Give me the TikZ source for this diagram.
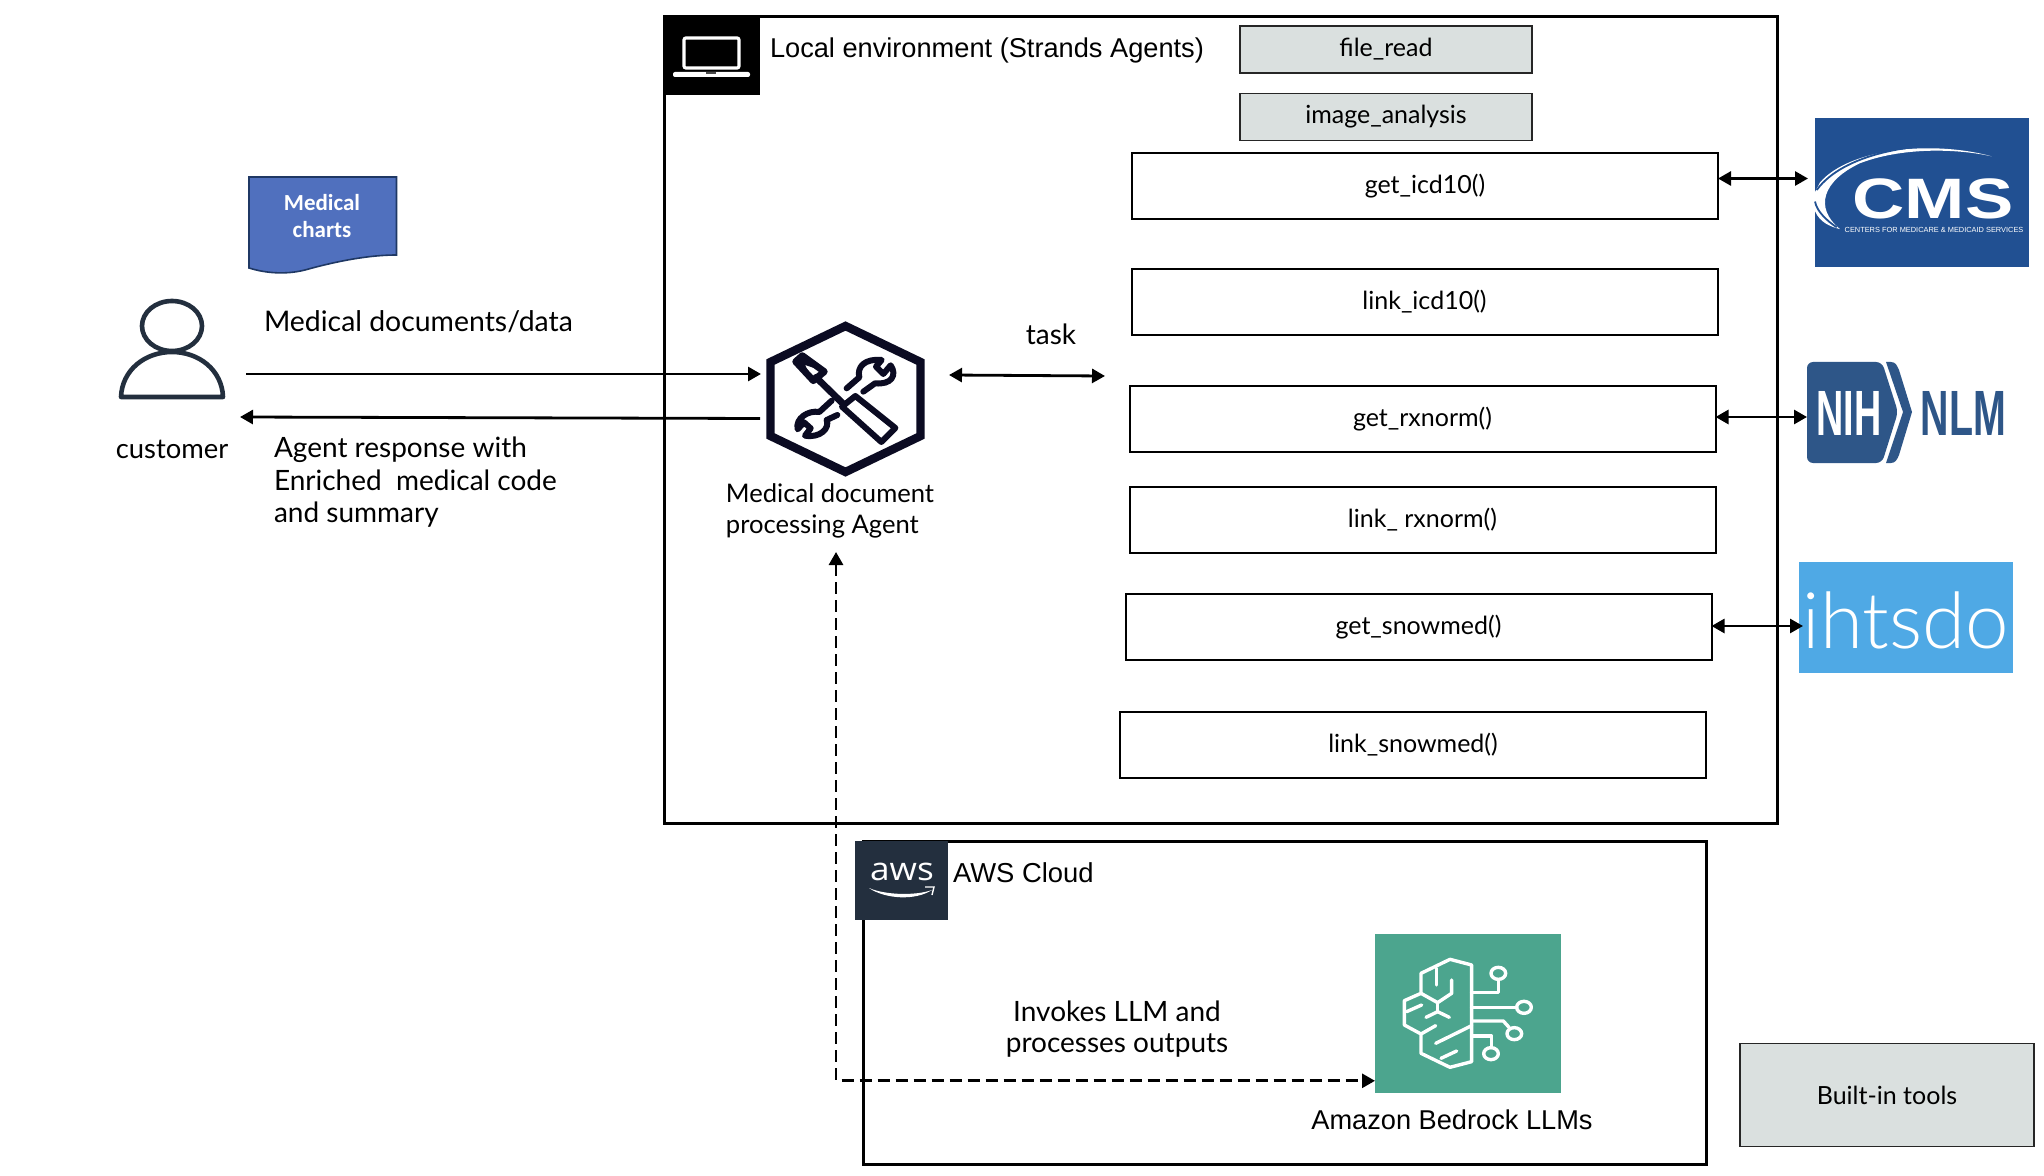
\documentclass[tikz,border=0pt]{standalone}
\usepackage{fontspec}
\usetikzlibrary{arrows.meta,positioning,calc}
\setmainfont{Liberation Sans}
\newfontfamily\ember{Lato}
\newfontfamily\arialf{Liberation Sans}
\newfontfamily\calib{Carlito}
\newcommand{\fs}[1]{\fontsize{#1}{#1}\selectfont}
\definecolor{ink}{HTML}{0B0B22}
\definecolor{squid}{HTML}{232F3E}
\definecolor{toolgrey}{HTML}{DAE0DF}
\definecolor{teal}{HTML}{4CA58E}
\definecolor{cmsblue}{HTML}{215092}
\definecolor{nihblue}{HTML}{2E5688}
\definecolor{ihblue}{HTML}{4FA9E5}
\definecolor{docblue}{HTML}{5070BE}
\definecolor{docedge}{HTML}{1F3864}
\tikzset{
  x=0.5pt,y=-0.5pt,
  every node/.style={inner sep=0pt,outer sep=0pt},
  frame/.style={draw=black,line width=1.5pt,fill=none,anchor=center},
  toolbox/.style={draw=black,line width=1pt,fill=white,font=\ember\fs{12.5},anchor=center,minimum height=33pt,minimum width=293pt},
  builtin/.style={draw=black!85,line width=0.8pt,fill=toolgrey,font=\ember\fs{12.5},anchor=center,minimum width=146pt,minimum height=23.5pt},
  tile/.style={anchor=center,minimum width=47pt,minimum height=40pt},
  lab/.style={font=\ember\fs{14.2},text=black,anchor=center,align=left},
  arl/.style={font=\arialf\fs{14},text=black,anchor=center,align=center},
  conn/.style={draw=black,line width=1.4pt,-{Triangle[length=6.5pt,width=7pt]}},
  biconn/.style={draw=black,line width=1.4pt,{Triangle[length=6.5pt,width=7pt]}-{Triangle[length=6.5pt,width=7pt]}},
  dashconn/.style={draw=black,line width=1.4pt,dash pattern=on 6pt off 3pt,{Triangle[length=6.5pt,width=7pt]}-{Triangle[length=6.5pt,width=7pt]}},
  brain/.style={draw=white,line width=1.7pt,line join=round,line cap=round},
  agentline/.style={draw=ink,line join=round,line cap=round},
}
\begin{document}
\begin{tikzpicture}
\useasboundingbox (0,0) rectangle (2044,1176);
\fill[white] (0,0) rectangle (2044,1176);

% frames
\node[frame,minimum width=556.5pt,minimum height=403.5pt] (local) at (1221,420) {};
\node[frame,minimum width=421.5pt,minimum height=161.5pt] (cloud) at (1284.5,1003) {};

% tile for local environment
\node[tile,fill=black] (ltile) at (712.5,55) {};
\draw[white,line width=1.6pt,rounded corners=1pt] (684,38) rectangle (739,68);
\fill[white,rounded corners=1pt] (673,72) rectangle (750,77);
\fill[black!70] (706,72) rectangle (716,74);
\node[arl,anchor=west,font=\arialf\fs{13.6}] (ltitle) at (770,50) {Local environment (Strands Agents)};

% tile for cloud
\node[tile,fill=squid,minimum width=46.5pt,minimum height=39.5pt] (ctile) at (901.5,880) {};
\node[font=\fontspec{Open Sans}\fs{16},text=white,xscale=1.1] (awsword) at (902,872) {aws};
\fill[white] (869,888) .. controls (885,899) and (915,901) .. (932,890) .. controls (915,896) and (885,895) .. (869,888) -- cycle;
\draw[white,line width=0.7pt] (925,887) -- (934,887) -- (932,895);
\node[arl,anchor=west,font=\arialf\fs{13.7}] (ctitle) at (953,873) {AWS Cloud};

% built-in tools
\node[builtin] (fileread) at (1386,49.5) {file\_read};
\node[builtin] (imganalysis) at (1386,117) {image\_analysis};
\node[builtin,minimum width=147pt,minimum height=51.5pt] (legend) at (1887,1095) {Built-in tools};

% tool boxes
\node[toolbox] (icd) at (1425,186) {get\_icd10()};
\node[toolbox] (licd) at (1424.5,302) {link\_icd10()};
\node[toolbox] (rx) at (1422.5,419) {get\_rxnorm()};
\node[toolbox] (lrx) at (1422.5,520) {link\_ rxnorm()};
\node[toolbox] (snow) at (1418.5,627) {get\_snowmed()};
\node[toolbox] (lsnow) at (1413,744.5) {link\_snowmed()};

% medical charts document
\fill[docblue,draw=docedge,line width=0.8pt] (249,177) -- (396.5,177) -- (396.5,255)
  .. controls (365,255) and (330,263) .. (305,270)
  .. controls (285,275) and (265,273) .. (249,268) -- cycle;
\node[font=\calib\bfseries\fs{11.5},text=white,align=center] (charts) at (322,216) {Medical\\[2pt]charts};

% customer
\coordinate (person) at (172,360);
\draw[squid,line width=2.3pt] (172,326) ellipse [x radius=30,y radius=25];
\draw[squid,line width=2.3pt,line join=round] (121,397) .. controls (122,370) and (145,352) .. (172,352) .. controls (199,352) and (222,370) .. (223,397) -- cycle;
\node[lab,anchor=center,font=\ember\fs{13.7}] (customer) at (172,449) {customer};

% labels left
\node[lab,anchor=west] (meddocs) at (264,322) {Medical documents/data};
\node[lab,anchor=north west,align=left,font=\ember\fs{14}] (resp) at (274,437) {Agent response with\\[2.3pt]Enriched\ \ medical code\\[2.3pt]and summary};

% agent
\node[minimum width=78pt,minimum height=77pt] (agent) at (845.5,399) {};
\draw[agentline,line width=4.2pt,line join=miter] (845.5,326) -- (920.5,362) -- (920.5,436) -- (845.5,472) -- (770.5,436) -- (770.5,362) -- cycle;
\begin{scope}[shift={(780,340)},scale=0.3333]
  \draw[agentline,line width=3.4pt,fill=white] (47,65) -- (67,47) -- (133,95) -- (100,122) -- cycle;
  \fill[ink] (47,65) -- (67,47) -- (105,85) -- (75,75) -- (100,122) -- cycle;
  \draw[agentline,line width=3.4pt] (108,112) -- (190,192);
  \draw[agentline,line width=3pt] (186,200) -- (226,168) -- (346,264) -- (304,306) -- cycle;
  \draw[agentline,line width=3pt] (200,145) -- (238,112) .. controls (230,80) and (255,55) .. (305,60) -- (288,80) -- (310,102) -- (332,76) .. controls (352,105) and (335,135) .. (285,130) -- (250,155);
  \draw[agentline,line width=3pt] (155,182) -- (118,216) .. controls (85,210) and (45,235) .. (53,268) -- (72,247) -- (92,265) -- (75,287) .. controls (120,295) and (150,265) .. (140,240) -- (172,225);
\end{scope}
\node[lab,font=\ember\fs{12.8},anchor=center] (agentlabel) at (830,511) {Medical document\\[2.4pt]processing Agent};
\node[lab,anchor=center,font=\ember\fs{14}] (task) at (1051,334) {task};
\coordinate (toolsleft) at (1105,376);
\coordinate (agentright) at (949,375);
\coordinate (agentup) at (836,552);

% logos
\node[minimum width=107pt,minimum height=74.5pt,fill=cmsblue] (cms) at (1922,193) {};
\begin{scope}[shift={(1700,100)},x=0.16667pt,y=-0.1916pt]
  \fill[white] (875,147) .. controls (700,105) and (450,125) .. (360,215) -- (345,240) -- (345,290) .. controls (360,320) and (390,330) .. (420,337) .. controls (340,280) and (370,210) .. (480,165) .. controls (600,125) and (760,125) .. (875,147) -- cycle;
  \draw[cmsblue,line width=0.9pt] (810,118) .. controls (640,110) and (430,140) .. (350,235);
  \draw[cmsblue,line width=0.9pt] (345,265) .. controls (350,290) and (380,315) .. (410,332);
\end{scope}
\node[font=\arialf\bfseries\fs{28.5},text=white,xscale=1.27,anchor=center,text height=20pt,text depth=0pt] (cmsword) at (1933,198.5) {CMS};
\node[font=\arialf\fs{3.7},text=white] (cmssub) at (1934,229.5) {CENTERS FOR MEDICARE \& MEDICAID SERVICES};

\node[minimum width=53pt,minimum height=50.5pt] (nih) at (1860,412.5) {};
\fill[nihblue,rounded corners=3pt] (1807,362) -- (1882,362) -- (1898,412) -- (1882,463) -- (1807,463) -- cycle;
\fill[nihblue] (1886,362) -- (1891,362) .. controls (1896,362) and (1897,366) .. (1899,370) -- (1912,412) -- (1899,455) .. controls (1897,460) and (1895,463) .. (1891,463) -- (1886,463) -- (1903,412) -- cycle;
\node[font=\arialf\bfseries\fs{32},text=white,xscale=0.59] (nihword) at (1849,413) {NIH};
\node[font=\arialf\bfseries\fs{32},text=nihblue,xscale=0.615] (nlmword) at (1963.5,413) {NLM};

\node[minimum width=107pt,minimum height=55.5pt,fill=ihblue] (ihtsdo) at (1906,617.5) {};
\node[font=\fontspec{Lato Light}\fs{39},text=white] (ihword) at (1906,620) {ihtsdo};

% bedrock
\node[minimum width=93pt,minimum height=79.5pt,fill=teal] (bedrock) at (1468,1013) {};
\begin{scope}[shift={(1340,910)},scale=0.3333]
  \draw[brain] (395,245) -- (395,165) -- (330,148) -- (243,190) -- (243,250) -- (193,272) -- (193,345) -- (243,372) -- (243,430) -- (330,472) -- (395,455) -- (395,245);
  \draw[brain] (290,175) -- (290,225);
  \draw[brain] (335,210) -- (335,250) -- (293,278) -- (243,250);
  \draw[brain] (293,278) -- (293,305);
  \draw[brain] (258,322) -- (293,305) -- (328,322);
  \draw[brain] (200,305) -- (245,285);
  \draw[brain] (243,372) -- (287,347);
  \draw[brain] (287,400) -- (395,347);
  \draw[brain] (303,445) -- (350,423);
  \draw[brain] (395,248) -- (475,248) -- (475,212);
  \draw[brain] (475,190) ellipse [x radius=22,y radius=18];
  \draw[brain] (395,292) -- (530,292);
  \draw[brain] (552,292) ellipse [x radius=22,y radius=18];
  \draw[brain] (395,333) -- (490,333) -- (507,352);
  \draw[brain] (523,371) ellipse [x radius=22,y radius=18];
  \draw[brain] (395,378) -- (455,378) -- (455,412);
  \draw[brain] (453,431) ellipse [x radius=22,y radius=18];
\end{scope}
\node[arl,font=\arialf\fs{13.6}] (bedlabel) at (1452,1120) {Amazon Bedrock LLMs};
\node[lab,font=\ember\fs{14},align=center] (invokes) at (1117,1029) {Invokes LLM and\\[1.3pt]processes outputs};

% connectors
\draw[conn] (246,374) -- ([xshift=-3.25pt]agent.west |- 0,374);
\draw[conn] (760,418.5) -- (240,417);
\draw[biconn] (agentright) -- (toolsleft);
\draw[biconn] ([yshift=3.75pt]icd.east) -- ([xshift=-3.5pt,yshift=7.25pt]cms.west);
\draw[biconn] ([yshift=1pt]rx.east) -- ([yshift=-2.25pt]nih.west);
\draw[biconn] ([yshift=0.5pt]snow.east) -- ([xshift=2pt,yshift=-4.25pt]ihtsdo.west);
\draw[dashconn] (agentup) |- ([yshift=-33.9pt]bedrock.west);
\end{tikzpicture}
\end{document}
